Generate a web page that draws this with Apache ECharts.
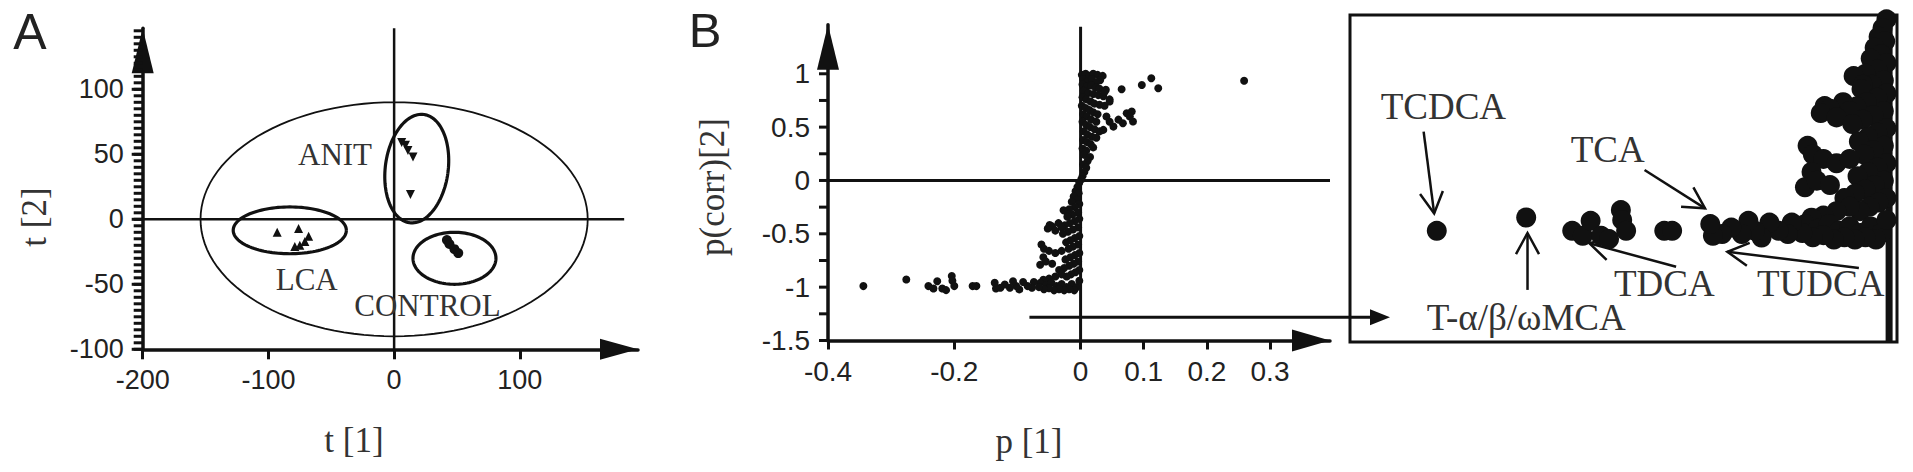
<!DOCTYPE html>
<html>
<head>
<meta charset="utf-8">
<title>PCA scores and S-plot</title>
<script src="https://cdn.jsdelivr.net/npm/echarts@6/dist/echarts.min.js"></script>
<style>
html, body { margin: 0; padding: 0; background: #fff; }
#chart { width: 1913px; height: 472px; }
</style>
</head>
<body>
<div id="chart"></div>
<script>
// ---- panel A: PCA scores ----
const anitScores = [[6, 59], [9, 57], [11, 53], [15, 48], [13, 19]];
const lcaScores = [[-93, -10], [-76, -7], [-68, -13], [-71, -17], [-79, -21], [-75, -20]];
const controlScores = [[42, -16], [44, -19], [48, -23], [51, -26]];
// [centre x, centre y, radius x, radius y, rotation in degrees]
const hotellingEllipse = [[0, 0, 154, 90, 0]];
const groupEllipses = [[18, 39, 25, 42, -8], [-83, -8.5, 45, 18, 0], [48, -30, 33, 20, 0]];
const groupNames = ['ANIT', 'LCA', 'CONTROL'];
const groupLabelAt = [[-47, 50], [-69.5, -46.5], [26.5, -66]];
const xTicksA = [-200, -100, 0, 100];
const yTicksA = [-100, -50, 0, 50, 100];
const yTickStepA = 5; // small ticks every 5 units up the t[2] axis

// ---- panel B: S-plot ----
const splotUpper = [
  [0.002, 0.99], [0.008, 1.0], [0.014, 0.98], [0.02, 1.0], [0.027, 0.99], [0.035, 0.98], [0.031, 0.94],
  [0.004, 0.95], [0.011, 0.93], [0.018, 0.95], [0.025, 0.92], [0.003, 0.9], [0.01, 0.88], [0.017, 0.89],
  [0.024, 0.87], [0.03, 0.86], [0.04, 0.85], [0.005, 0.84], [0.012, 0.82], [0.02, 0.81], [0.028, 0.8],
  [0.036, 0.79], [0.046, 0.76], [0.003, 0.78], [0.009, 0.76], [0.016, 0.74], [0.022, 0.72], [0.03, 0.71],
  [0.038, 0.7], [0.002, 0.7], [0.008, 0.68], [0.014, 0.66], [0.02, 0.64], [0.027, 0.62], [0.004, 0.62],
  [0.01, 0.6], [0.017, 0.57], [0.025, 0.55], [0.003, 0.55], [0.009, 0.52], [0.015, 0.5], [0.022, 0.48],
  [0.03, 0.46], [0.005, 0.46], [0.011, 0.43], [0.018, 0.41], [0.025, 0.4], [0.004, 0.38], [0.01, 0.36],
  [0.016, 0.34], [0.02, 0.31], [0.003, 0.3], [0.009, 0.28], [0.006, 0.24], [0.015, 0.22], [0.011, 0.18],
  [0.004, 0.15], [0.009, 0.12], [0.006, 0.08], [0.003, 0.04], [0.001, 0.01],
  [0.041, 0.6], [0.052, 0.505], [0.036, 0.474], [0.067, 0.537], [0.073, 0.63], [0.081, 0.646],
  [0.083, 0.552], [0.078, 0.6], [0.06, 0.57], [0.046, 0.55], [0.046, 0.74], [0.038, 0.83],
  [0.065, 0.855], [0.097, 0.895], [0.112, 0.958], [0.123, 0.864], [0.259, 0.935]
];
const splotLower = [
  [-0.002, -0.02], [-0.005, -0.06], [-0.008, -0.1], [-0.003, -0.12], [-0.011, -0.15], [-0.006, -0.18],
  [-0.014, -0.2], [-0.002, -0.22], [-0.009, -0.25], [-0.018, -0.27], [-0.027, -0.28], [-0.004, -0.3],
  [-0.013, -0.32], [-0.02, -0.32], [-0.021, -0.34], [-0.002, -0.36], [-0.009, -0.38], [-0.017, -0.4],
  [-0.025, -0.42], [-0.035, -0.4], [-0.049, -0.418], [-0.045, -0.43], [-0.03, -0.44], [-0.052, -0.45],
  [-0.04, -0.47], [-0.004, -0.44], [-0.012, -0.46], [-0.02, -0.48], [-0.028, -0.5], [-0.002, -0.52],
  [-0.009, -0.54], [-0.016, -0.56], [-0.023, -0.58], [-0.004, -0.6], [-0.012, -0.62], [-0.019, -0.64],
  [-0.062, -0.6], [-0.058, -0.64], [-0.05, -0.66], [-0.04, -0.68], [-0.03, -0.66], [-0.002, -0.68],
  [-0.009, -0.7], [-0.016, -0.72], [-0.024, -0.74], [-0.059, -0.72], [-0.064, -0.79], [-0.055, -0.76],
  [-0.045, -0.78], [-0.004, -0.76], [-0.011, -0.78], [-0.018, -0.8], [-0.026, -0.82], [-0.034, -0.84],
  [-0.002, -0.84], [-0.008, -0.86], [-0.015, -0.88], [-0.022, -0.9], [-0.03, -0.88], [-0.04, -0.9],
  [-0.05, -0.92], [-0.059, -0.93], [-0.064, -0.96], [-0.054, -0.98], [-0.046, -0.96], [-0.038, -0.99],
  [-0.03, -0.97], [-0.022, -1.0], [-0.014, -0.97], [-0.006, -1.0], [-0.002, -0.94], [-0.01, -1.03],
  [-0.018, -1.02], [-0.026, -1.03], [-0.034, -1.02], [-0.042, -1.03], [-0.05, -1.01], [-0.058, -1.02],
  [-0.066, -1.0]
];
// bile acids on the far left of the lower branch
const splotTail = [
  [-0.074, -0.952], [-0.077, -1.005], [-0.084, -0.99], [-0.091, -0.952], [-0.097, -1.021], [-0.102, -0.99],
  [-0.107, -0.944], [-0.112, -1.005], [-0.12, -0.975], [-0.127, -1.005], [-0.134, -1.013], [-0.136, -0.959],
  [-0.171, -0.99], [-0.165, -0.99],
  [-0.241, -0.99], [-0.233, -1.013], [-0.227, -0.944], [-0.219, -1.013], [-0.213, -1.028],
  [-0.204, -0.895], [-0.203, -0.94], [-0.2, -0.99],
  [-0.276, -0.929], [-0.344, -0.99]
];
const xTicksB = [-0.4, -0.2, 0, 0.1, 0.2, 0.3];
const yTicksB = [-1.5, -1, -0.5, 0, 0.5, 1];
const yMinorTicksB = [-1.5, -1.25, -1, -0.75, -0.5, -0.25, 0, 0.25, 0.5, 0.75, 1];

// ---- zoomed box call-outs (inset coordinates) ----
const calloutNames = ['TCDCA', 'TCA', 'T-α/β/ωMCA', 'TDCA', 'TUDCA'];
const calloutLabelAt = [[-0.339, -0.422], [-0.214, -0.617], [-0.276, -1.388], [-0.171, -1.232], [-0.052, -1.232]];
// [from x, from y, tip x, tip y]
const calloutArrows = [
  [-0.354, -0.535, -0.346, -0.91],
  [-0.186, -0.711, -0.14, -0.887],
  [-0.275, -1.261, -0.275, -1.0],
  [-0.162, -1.155, -0.228, -1.047],
  [-0.023, -1.161, -0.123, -1.086]
];
const zoomPointer = [[-0.081, -1.282, 0.49, -1.282]];

const splotAll = splotUpper.concat(splotLower, splotTail);
const yTickMarksA = [];
for (let v = -100; v < 147; v += yTickStepA) yTickMarksA.push(v);

const INK = '#111';
const SANS = '"Liberation Sans", Arial, sans-serif';
const SERIF = '"Liberation Serif", "Times New Roman", serif';

const chart = echarts.init(document.getElementById('chart'), null, { renderer: 'svg' });

function ellipseItem(width) {
  return function (params, api) {
    const cx = api.value(0), cy = api.value(1), rx = api.value(2), ry = api.value(3);
    const a = api.value(4) * Math.PI / 180;
    const pts = [];
    for (let k = 0; k <= 120; k++) {
      const t = k / 120 * Math.PI * 2;
      const ex = rx * Math.cos(t), ey = ry * Math.sin(t);
      pts.push(api.coord([cx + ex * Math.cos(a) - ey * Math.sin(a), cy + ex * Math.sin(a) + ey * Math.cos(a)]));
    }
    return { type: 'polyline', shape: { points: pts }, style: { stroke: INK, lineWidth: width, fill: null } };
  };
}

function textItem(names, font) {
  return function (params, api) {
    const p = api.coord([api.value(0), api.value(1)]);
    return {
      type: 'text', x: p[0], y: p[1],
      style: { text: names[params.dataIndex], font: font, fill: '#333', align: 'center', verticalAlign: 'middle' }
    };
  };
}

// short tick marks to the left of a y axis, drawn as thin bars
function yTickSeries(axis, atX, values, len, width) {
  return {
    type: 'scatter', xAxisIndex: axis, yAxisIndex: axis, data: values.map(v => [atX, v]),
    symbol: 'rect', symbolSize: [len, width], symbolOffset: [-len / 2, 0],
    itemStyle: { color: INK, opacity: 1 }, clip: false, silent: true, z: 3
  };
}

function openArrowItem(params, api) {
  const a = api.coord([api.value(0), api.value(1)]);
  const b = api.coord([api.value(2), api.value(3)]);
  const ang = Math.atan2(b[1] - a[1], b[0] - a[0]);
  const len = 24, spread = 0.5;
  const w1 = [b[0] - len * Math.cos(ang - spread), b[1] - len * Math.sin(ang - spread)];
  const w2 = [b[0] - len * Math.cos(ang + spread), b[1] - len * Math.sin(ang + spread)];
  return {
    type: 'group', children: [
      { type: 'line', shape: { x1: a[0], y1: a[1], x2: b[0], y2: b[1] }, style: { stroke: INK, lineWidth: 2.5 } },
      { type: 'polyline', shape: { points: [w1, b, w2] }, style: { stroke: INK, lineWidth: 2.5, fill: null } }
    ]
  };
}

function solidArrowItem(params, api) {
  const a = api.coord([api.value(0), api.value(1)]);
  const b = api.coord([api.value(2), api.value(3)]);
  return {
    type: 'group', children: [
      { type: 'line', shape: { x1: a[0], y1: a[1], x2: b[0] - 18, y2: b[1] }, style: { stroke: INK, lineWidth: 3 } },
      { type: 'polygon', shape: { points: [[b[0] - 20, b[1] - 8], [b[0], b[1]], [b[0] - 20, b[1] + 8]] }, style: { fill: INK } }
    ]
  };
}

function refLine(xi, data, width) {
  return {
    type: 'line', xAxisIndex: xi, yAxisIndex: xi, data: data, symbol: 'none', silent: true,
    lineStyle: { color: INK, width: width }, z: 1
  };
}

function valueAxis(grid, min, max, extra) {
  return Object.assign({
    type: 'value', gridIndex: grid, min: min, max: max,
    splitLine: { show: false }
  }, extra);
}

const arrowLine = (size) => ({
  show: true, onZero: false, symbol: ['none', 'triangle'], symbolSize: size, symbolOffset: [0, -size[1] / 2],
  lineStyle: { color: INK, width: 3.5 }
});

const dots = { color: INK, opacity: 1 };

const option = {
  animation: false,
  backgroundColor: '#fff',
  grid: [
    { left: 142.7, top: 28.2, width: 495.3, height: 321.1 },
    { left: 828, top: 24.7, width: 502, height: 315.8 },
    { left: 1350, top: 15, width: 547, height: 327, show: true, borderColor: INK, borderWidth: 3, backgroundColor: '#fff' }
  ],
  xAxis: [
    valueAxis(0, -200, 194, {
      axisLine: arrowLine([21, 38]),
      axisTick: { show: true, customValues: xTicksA, length: 10, lineStyle: { color: INK, width: 3 } },
      axisLabel: { customValues: xTicksA, margin: 17, fontSize: 27, fontFamily: SANS, color: '#222' }
    }),
    valueAxis(1, -0.4, 0.395, {
      axisLine: arrowLine([22, 38]),
      axisTick: { show: true, customValues: xTicksB, length: 9, lineStyle: { color: INK, width: 3 } },
      axisLabel: { customValues: xTicksB, margin: 17, fontSize: 28, fontFamily: SANS, color: '#222' }
    }),
    valueAxis(2, -0.41, 0.006, { show: false })
  ],
  yAxis: [
    valueAxis(0, -100, 147, {
      interval: 50,
      axisLine: arrowLine([22, 45]),
      axisTick: { show: false },
      axisLabel: { customValues: yTicksA, margin: 19, fontSize: 27, fontFamily: SANS, color: '#222' }
    }),
    valueAxis(1, -1.5, 1.46, {
      axisLine: arrowLine([22, 45]),
      axisTick: { show: false },
      axisLabel: { customValues: yTicksB, margin: 18, fontSize: 28, fontFamily: SANS, color: '#222' }
    }),
    valueAxis(2, -1.5, 0, { show: false })
  ],
  series: [
    // panel A
    refLine(0, [[0, -100], [0, 147]], 2.5),
    refLine(0, [[-200, 0], [183, 0]], 2.5),
    yTickSeries(0, xTicksA[0], yTickMarksA, 9, 3),
    yTickSeries(0, xTicksA[0], yTicksA, 11, 3),
    { type: 'custom', xAxisIndex: 0, yAxisIndex: 0, data: hotellingEllipse, renderItem: ellipseItem(1.8), silent: true },
    { type: 'custom', xAxisIndex: 0, yAxisIndex: 0, data: groupEllipses, renderItem: ellipseItem(3.2), silent: true },
    { type: 'scatter', xAxisIndex: 0, yAxisIndex: 0, data: anitScores, symbol: 'triangle', symbolRotate: 180, symbolSize: 9, itemStyle: dots },
    { type: 'scatter', xAxisIndex: 0, yAxisIndex: 0, data: lcaScores, symbol: 'triangle', symbolSize: 9, itemStyle: dots },
    { type: 'scatter', xAxisIndex: 0, yAxisIndex: 0, data: controlScores, symbol: 'circle', symbolSize: 10, itemStyle: dots },
    { type: 'custom', xAxisIndex: 0, yAxisIndex: 0, data: groupLabelAt, renderItem: textItem(groupNames, '31px ' + SERIF), silent: true },
    // panel B
    refLine(1, [[0, -1.5], [0, 1.44]], 3),
    refLine(1, [[-0.4, 0], [0.395, 0]], 3),
    yTickSeries(1, xTicksB[0], yMinorTicksB, 9, 3),
    { type: 'scatter', xAxisIndex: 1, yAxisIndex: 1, data: splotAll, symbolSize: 8, itemStyle: dots },
    { type: 'custom', xAxisIndex: 1, yAxisIndex: 1, data: zoomPointer, renderItem: solidArrowItem, clip: false, silent: true, z: 5 },
    // zoomed box
    refLine(2, [[0, -1.5], [0, 0]], 7),
    { type: 'scatter', xAxisIndex: 2, yAxisIndex: 2, data: splotAll, symbolSize: 20, clip: true, itemStyle: dots },
    { type: 'custom', xAxisIndex: 2, yAxisIndex: 2, data: calloutArrows, renderItem: openArrowItem, clip: false, silent: true },
    { type: 'custom', xAxisIndex: 2, yAxisIndex: 2, data: calloutLabelAt, renderItem: textItem(calloutNames, '37px ' + SERIF), clip: false, silent: true }
  ],
  graphic: [
    { type: 'text', x: 30, y: 32, style: { text: 'A', font: '50px ' + SANS, fill: '#222', align: 'center', verticalAlign: 'middle' } },
    { type: 'text', x: 705, y: 30, style: { text: 'B', font: '49px ' + SANS, fill: '#222', align: 'center', verticalAlign: 'middle' } },
    { type: 'text', x: 34, y: 217, rotation: Math.PI / 2, style: { text: 't [2]', font: '35px ' + SERIF, fill: '#333', align: 'center', verticalAlign: 'middle' } },
    { type: 'text', x: 354, y: 440, style: { text: 't [1]', font: '35px ' + SERIF, fill: '#333', align: 'center', verticalAlign: 'middle' } },
    { type: 'text', x: 712, y: 187, rotation: Math.PI / 2, style: { text: 'p(corr)[2]', font: '35px ' + SERIF, fill: '#333', align: 'center', verticalAlign: 'middle' } },
    { type: 'text', x: 1029, y: 441, style: { text: 'p [1]', font: '35px ' + SERIF, fill: '#333', align: 'center', verticalAlign: 'middle' } }
  ]
};

chart.setOption(option);
</script>
</body>
</html>
